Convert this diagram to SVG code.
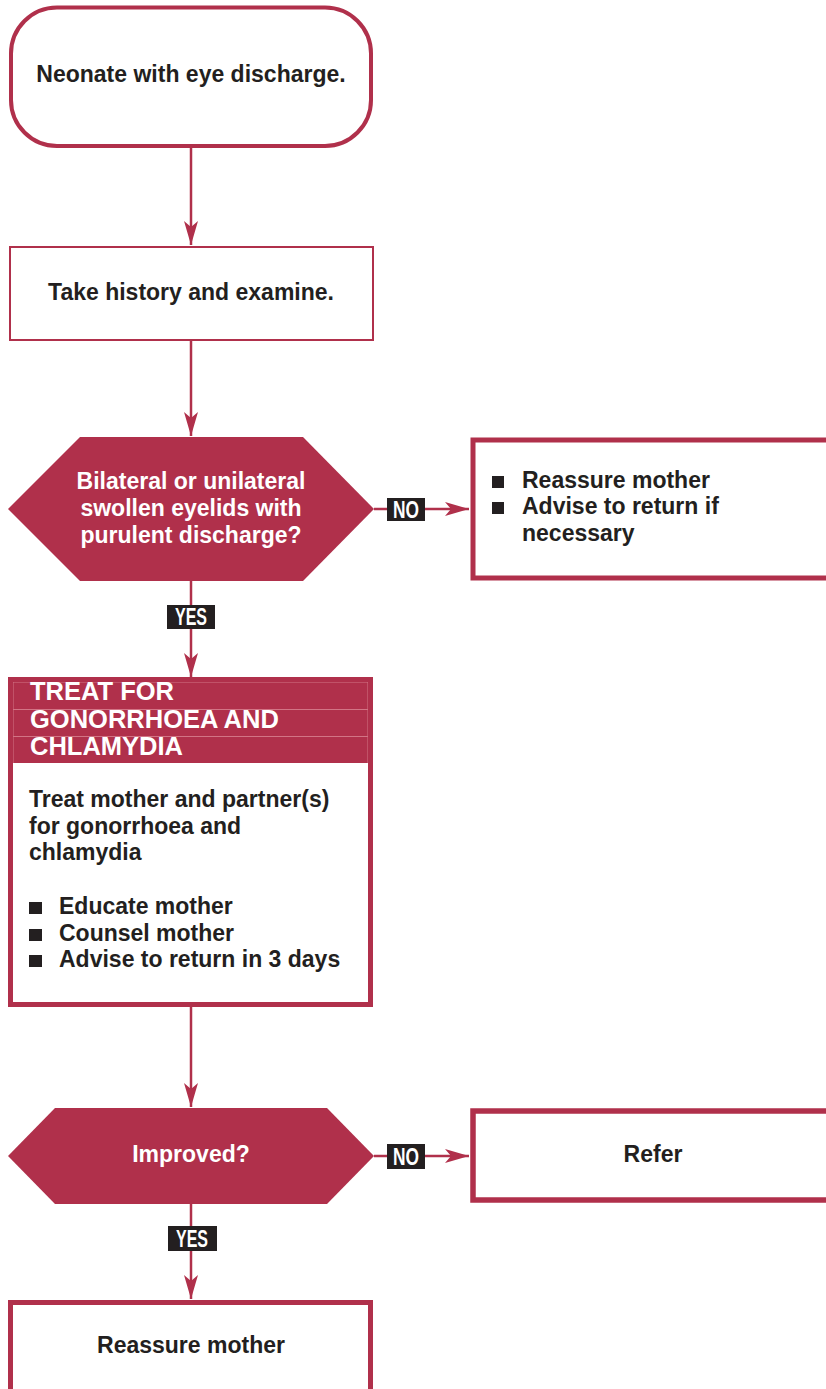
<svg xmlns="http://www.w3.org/2000/svg" width="826" height="1389" viewBox="0 0 826 1389">
<defs>
<style>
.box{fill:#fff;stroke:#b0304b}
.dec{fill:#b0304b}
.t{font-family:"Liberation Sans",Arial,sans-serif;font-weight:bold;font-size:23px;fill:#231f20}
.w{font-family:"Liberation Sans",Arial,sans-serif;font-weight:bold;font-size:23px;fill:#fff}
.h{font-family:"Liberation Sans",Arial,sans-serif;font-weight:bold;font-size:25.5px;fill:#fff}
.lbl{font-family:"Liberation Sans",Arial,sans-serif;font-weight:bold;font-size:23px;fill:#fff}
.c{stroke:#b0304b;stroke-width:2.5;fill:none}
.rule{stroke:#d27485;stroke-width:1;fill:none}
.bul{fill:#231f20}
</style>
<marker id="arr" markerUnits="userSpaceOnUse" markerWidth="26" markerHeight="16" refX="24" refY="7" orient="auto">
<path d="M24,7 L0,0 L6,7 L0,14 Z" fill="#b0304b"/>
</marker>
</defs>

<g id="connectors">
<line class="c" x1="191" y1="148" x2="191" y2="245" marker-end="url(#arr)"/>
<line class="c" x1="191" y1="341" x2="191" y2="436" marker-end="url(#arr)"/>
<line class="c" x1="374" y1="509" x2="469" y2="509" marker-end="url(#arr)"/>
<line class="c" x1="191" y1="581" x2="191" y2="677" marker-end="url(#arr)"/>
<line class="c" x1="191" y1="1007" x2="191" y2="1107" marker-end="url(#arr)"/>
<line class="c" x1="374" y1="1156" x2="469" y2="1156" marker-end="url(#arr)"/>
<line class="c" x1="191" y1="1204" x2="191" y2="1299" marker-end="url(#arr)"/>
<g id="label-no1"><rect x="387" y="498" width="38" height="23" fill="#231f20"/><text class="lbl" x="393" y="518" textLength="26" lengthAdjust="spacingAndGlyphs">NO</text></g>
<g id="label-yes1"><rect x="167" y="605" width="48" height="24" fill="#231f20"/><text class="lbl" x="175" y="625" textLength="32" lengthAdjust="spacingAndGlyphs">YES</text></g>
<g id="label-no2"><rect x="387" y="1144" width="38" height="25" fill="#231f20"/><text class="lbl" x="393" y="1165" textLength="26" lengthAdjust="spacingAndGlyphs">NO</text></g>
<g id="label-yes2"><rect x="168" y="1226" width="49" height="25" fill="#231f20"/><text class="lbl" x="176" y="1247" textLength="32" lengthAdjust="spacingAndGlyphs">YES</text></g>
</g>

<g id="start">
<rect class="box" x="11" y="7.5" width="360" height="138.5" rx="46" ry="46" stroke-width="4"/>
<text class="t" x="191" y="82" text-anchor="middle">Neonate with eye discharge.</text>
</g>

<g id="history">
<rect class="box" x="10" y="247" width="363" height="93" stroke-width="2"/>
<text class="t" x="191" y="300" text-anchor="middle">Take history and examine.</text>
</g>

<g id="decision1">
<polygon class="dec" points="8,509 80,437 303,437 374,509 303,581 80,581"/>
<text class="w" x="191" y="489" text-anchor="middle">Bilateral or unilateral</text>
<text class="w" x="191" y="516" text-anchor="middle">swollen eyelids with</text>
<text class="w" x="191" y="543" text-anchor="middle">purulent discharge?</text>
</g>

<g id="reassure1">
<rect class="box" x="473" y="440" width="400" height="138" stroke-width="5"/>
<rect class="bul" x="492" y="476" width="12" height="12"/>
<text class="t" x="522" y="488">Reassure mother</text>
<rect class="bul" x="492" y="502" width="12" height="12"/>
<text class="t" x="522" y="514">Advise to return if</text>
<text class="t" x="522" y="541">necessary</text>
</g>

<g id="treat">
<rect x="8" y="677" width="365" height="86" fill="#b0304b"/>
<path class="rule" d="M13,763 V682 H368 V763 M13,709.5 H368 M13,736.5 H368"/>
<text class="h" x="30" y="700">TREAT FOR</text>
<text class="h" x="30" y="727.5">GONORRHOEA AND</text>
<text class="h" x="30" y="755">CHLAMYDIA</text>
<rect x="10.5" y="679.5" width="360" height="325" fill="none" stroke="#b0304b" stroke-width="5"/>
<text class="t" x="29" y="807">Treat mother and partner(s)</text>
<text class="t" x="29" y="834">for gonorrhoea and</text>
<text class="t" x="29" y="860">chlamydia</text>
<rect class="bul" x="29" y="902" width="13" height="12"/>
<text class="t" x="59" y="914">Educate mother</text>
<rect class="bul" x="29" y="929" width="13" height="12"/>
<text class="t" x="59" y="941">Counsel mother</text>
<rect class="bul" x="29" y="955" width="13" height="12"/>
<text class="t" x="59" y="967">Advise to return in 3 days</text>
</g>

<g id="decision2">
<polygon class="dec" points="8,1156 55,1108 327,1108 374,1156 327,1204 55,1204"/>
<text class="w" x="191" y="1162" text-anchor="middle">Improved?</text>
</g>

<g id="refer">
<rect class="box" x="473" y="1111" width="400" height="89" stroke-width="5.5"/>
<text class="t" x="653" y="1162" text-anchor="middle">Refer</text>
</g>

<g id="reassure2">
<rect class="box" x="10.5" y="1302.5" width="360" height="120" stroke-width="5"/>
<text class="t" x="191" y="1353" text-anchor="middle">Reassure mother</text>
</g>
</svg>
